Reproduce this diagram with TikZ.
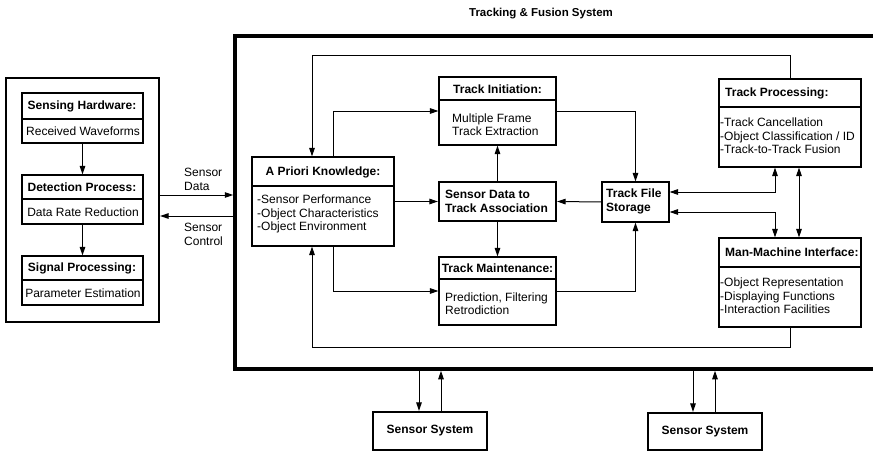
\documentclass[tikz,border=0pt]{standalone}
\usepackage{fontspec}
\setmainfont{Liberation Sans}
\usetikzlibrary{arrows.meta}
\begin{document}
\begin{tikzpicture}[x=1pt,y=-1pt,
  every node/.style={font=\fontsize{12}{13.5}\selectfont},
  box/.style={draw, line width=1.1pt, inner sep=0pt},
  heavybox/.style={draw, line width=2.2pt, inner sep=0pt},
  frame/.style={draw, line width=3.5pt, inner sep=0pt},
  dv/.style={line width=1.1pt},
  lbl/.style={inner sep=0pt, align=left},
  ttl/.style={inner sep=0pt, font=\fontsize{12}{13.5}\selectfont\bfseries},
  arr/.style={-{Triangle[length=8.5pt,width=5.5pt]}, line width=1pt},
  arrs/.style={{Triangle[length=8.5pt,width=5.5pt]}-{Triangle[length=8.5pt,width=5.5pt]}, line width=1pt},
  ln/.style={line width=1pt}]
\clip (0,0) rectangle (873,452);

% title
\node[ttl, font=\fontsize{11.5}{13}\selectfont\bfseries] (title) at (541,14) {Tracking \& Fusion System};

% left sensor box
\node[heavybox, minimum width=153pt, minimum height=244pt] (lb) at (82.5,200) {};
\node[box, minimum width=121pt, minimum height=50pt] (sh) at (82.5,118) {};
\node[box, minimum width=121pt, minimum height=49pt] (dp) at (82.5,199.5) {};
\node[box, minimum width=121pt, minimum height=49pt] (sp) at (82.5,280.5) {};
\draw[dv] (sh.west |- 0,119) -- (sh.east |- 0,119);
\draw[dv] (dp.west |- 0,199) -- (dp.east |- 0,199);
\draw[dv] (sp.west |- 0,280) -- (sp.east |- 0,280);
\node[ttl] (sh-t) at (82,106) {Sensing Hardware:};
\node[lbl] (sh-b) at (83,131) {Received Waveforms};
\node[ttl] (dp-t) at (82,187) {Detection Process:};
\node[lbl] (dp-b) at (83,212) {Data Rate Reduction};
\node[ttl] (sp-t) at (82,268) {Signal Processing:};
\node[lbl] (sp-b) at (83,293) {Parameter Estimation};
\draw[arr] (sh.south) -- (dp.north);
\draw[arr] (dp.south) -- (sp.north);

% big frame
\node[frame, minimum width=645pt, minimum height=333pt] (big) at (557.5,202.5) {};

% sensor data / control
\draw[arr] (lb.east |- 0,195) -- (big.west |- 0,195);
\draw[arr] (big.west |- 0,216) -- (lb.east |- 0,216);
\node[lbl, anchor=west] (sd) at (184,179.5) {Sensor\\Data};
\node[lbl, anchor=west] (sc) at (184,234.5) {Sensor\\Control};

% a priori knowledge
\node[box, minimum width=142pt, minimum height=89pt] (ap) at (323,201.5) {};
\draw[dv] (ap.west |- 0,186) -- (ap.east |- 0,186);
\node[ttl] (ap-t) at (323,172) {A Priori Knowledge:};
\node[lbl, anchor=west] (ap-b) at (257,214) {-Sensor Performance\\-Object Characteristics\\-Object Environment};

% track initiation
\node[box, minimum width=117pt, minimum height=68pt] (ti) at (497.5,111) {};
\draw[dv] (ti.west |- 0,100) -- (ti.east |- 0,100);
\node[ttl] (ti-t) at (497.5,89) {Track Initiation:};
\node[lbl, anchor=west] (ti-b) at (452,124.5) {Multiple Frame\\Track Extraction};

% sensor data to track association
\node[heavybox, minimum width=117pt, minimum height=39pt] (sdta) at (497.5,201.5) {};
\node[lbl, anchor=west, font=\fontsize{12}{13.5}\selectfont\bfseries] (sdta-t) at (445,201.5) {Sensor Data to\\Track Association};

% track maintenance
\node[box, minimum width=117pt, minimum height=68pt] (tm) at (497.5,291) {};
\draw[dv] (tm.west |- 0,279) -- (tm.east |- 0,279);
\node[ttl] (tm-t) at (497.5,268) {Track Maintenance:};
\node[lbl, anchor=west] (tm-b) at (445,303.5) {Prediction, Filtering\\Retrodiction};

% track file storage
\node[box, minimum width=67pt, minimum height=40pt] (tfs) at (635.5,202) {};
\node[lbl, anchor=west, font=\fontsize{12}{13.5}\selectfont\bfseries] (tfs-t) at (606,201.5) {Track File\\Storage};

% track processing
\node[box, minimum width=142pt, minimum height=88pt] (tp) at (790,123) {};
\draw[dv] (tp.west |- 0,107) -- (tp.east |- 0,107);
\node[ttl, anchor=west] (tp-t) at (725,93.5) {Track Processing:};
\node[lbl, anchor=west] (tp-b) at (720,136) {-Track Cancellation\\-Object Classification / ID\\-Track-to-Track Fusion};

% man-machine interface
\node[box, minimum width=142pt, minimum height=89pt] (mmi) at (790,282.5) {};
\draw[dv] (mmi.west |- 0,267) -- (mmi.east |- 0,267);
\node[ttl, anchor=west] (mmi-t) at (725,252.5) {Man-Machine Interface:};
\node[lbl, anchor=west] (mmi-b) at (720,296) {-Object Representation\\-Displaying Functions\\-Interaction Facilities};

% internal connectors
\draw[arr] (tp.north) |- (312,56) -- (312,0 |- ap.north);
\draw[arr] (mmi.south) |- (312,347) -- (312,0 |- ap.south);
\draw[arr] (333,0 |- ap.north) |- (ti.west);
\draw[arr] (333,0 |- ap.south) |- (tm.west);
\draw[arr] (ap.east) -- (sdta.west);
\draw[arr] (sdta.north) -- (ti.south);
\draw[arr] (sdta.south) -- (tm.north);
\draw[arr] (ti.east) -| (tfs.north);
\draw[arr] (tm.east) -| (tfs.south);
\draw[arr] (tfs.west) -- (sdta.east);
\draw[arrs] (tfs.east |- 0,192) -| (775,0 |- tp.south);
\draw[arrs] (tfs.east |- 0,212) -| (775,0 |- mmi.north);
\draw[arrs] (799,0 |- tp.south) -- (799,0 |- mmi.north);

% sensor systems
\node[heavybox, minimum width=114pt, minimum height=38pt] (ss1) at (430,431) {};
\node[ttl] (ss1-t) at (430,431) {Sensor System};
\node[heavybox, minimum width=114pt, minimum height=37pt] (ss2) at (705,431.5) {};
\node[ttl] (ss2-t) at (705,431.5) {Sensor System};
\draw[arr] (419,0 |- big.south) -- (419,0 |- ss1.north);
\draw[arr] (441,0 |- ss1.north) -- (441,0 |- big.south);
\draw[arr] (693,0 |- big.south) -- (693,0 |- ss2.north);
\draw[arr] (715,0 |- ss2.north) -- (715,0 |- big.south);
\end{tikzpicture}
\end{document}
